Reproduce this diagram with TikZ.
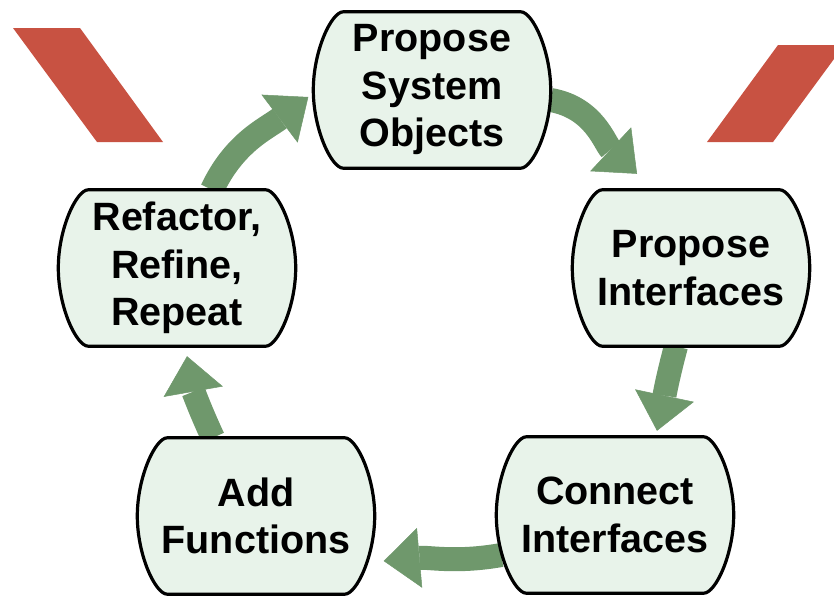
\documentclass[tikz,border=0pt]{standalone}
\usepackage{fontspec}
\setmainfont{Liberation Sans}
\usepackage{tikz}
\usetikzlibrary{arrows,arrows.meta}
\usetikzlibrary{backgrounds,calc,positioning,shapes}
\definecolor{flowgreen}{RGB}{111,152,108}
\definecolor{boxfill}{RGB}{232,243,234}
\definecolor{barred}{RGB}{200,82,66}
\tikzset{
    stepbox/.style={
        rectangle, minimum width=237pt, minimum height=156pt, inner sep=0pt,
        align=center, font=\bfseries\fontsize{39.5}{47.5}\selectfont
    },
    stepline/.style={draw, line width=3.2pt, fill=boxfill},
    flow/.style={
        draw=flowgreen, line width=24pt,
        -{Triangle[width=60pt,length=36pt,line width=0.5pt]}
    },
    bar/.style={fill=barred, draw=none}
}

\begin{document}
\begin{tikzpicture}[x=1pt,y=1pt]
    \useasboundingbox (0,0) rectangle (834,-597);
    \node[stepbox] (objects) at (432,-90) {Propose\\System\\Objects};
    \node[stepbox] (interfaces) at (691,-268) {Propose\\Interfaces};
    \node[stepbox] (connect) at (615,-515) {Connect\\Interfaces};
    \node[stepbox] (add) at (256,-516) {Add\\Functions};
    \node[stepbox] (refactor) at (177,-268) {Refactor,\\Refine,\\Repeat};
    \begin{scope}[on background layer]
    % red bars
    \fill[bar] (13,-28) -- (80,-28) -- (163,-142) -- (97,-142) -- cycle;
    \fill[bar] (707,-142) -- (773,-142) -- (834,-59) -- (834,-45) -- (778,-45) -- cycle;
    % cycle arrows
    \draw[flow] ([xshift=35pt]refactor.north) to [out=65, in=217] ([xshift=-5pt,yshift=-7pt]objects.west);
    \draw[flow] ([yshift=-10pt]objects.east) to [out=-10, in=137] ([xshift=-54pt,yshift=16pt]interfaces.north);
    \draw[flow] ([xshift=-15pt]interfaces.south) to [out=-105, in=78] ([xshift=42pt,yshift=6pt]connect.north);
    \draw[flow] ([xshift=5pt,yshift=-40pt]connect.west) to [out=190, in=5] ([xshift=9pt,yshift=-45pt]add.east);
    \draw[flow] ([xshift=-43pt]add.north) to [out=115, in=-80] ([xshift=10pt,yshift=-10pt]refactor.south);
    % box outlines
    \foreach \n in {objects, interfaces, connect, add, refactor}
        \draw[stepline] ($(\n.north west)+(30,0)$) -- ($(\n.north east)+(-30,0)$)
            .. controls ($(\n.north east)+(-18,0)$) and ($(\n.east)+(0,39)$) .. (\n.east)
            .. controls ($(\n.east)+(0,-39)$) and ($(\n.south east)+(-18,0)$) .. ($(\n.south east)+(-30,0)$)
            -- ($(\n.south west)+(30,0)$)
            .. controls ($(\n.south west)+(18,0)$) and ($(\n.west)+(0,-39)$) .. (\n.west)
            .. controls ($(\n.west)+(0,39)$) and ($(\n.north west)+(18,0)$) .. cycle;
    \end{scope}
\end{tikzpicture}
\end{document}
